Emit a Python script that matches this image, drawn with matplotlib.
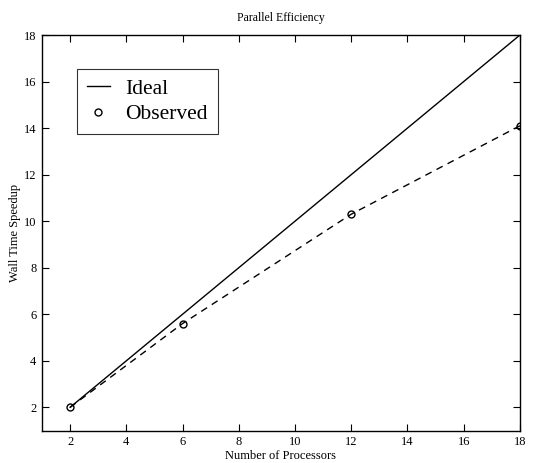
import matplotlib
matplotlib.use("Agg")
import matplotlib.pyplot as plt

plt.rcParams["font.family"] = ["Liberation Serif", "DejaVu Serif"]

# data
processors = [2, 6, 12, 18]
ideal_speedup = [2, 6, 12, 18]
observed_speedup = [2.0, 5.6, 10.3, 14.1]
xticks = [2, 4, 6, 8, 10, 12, 14, 16, 18]
yticks = [2, 4, 6, 8, 10, 12, 14, 16, 18]

fig = plt.figure(figsize=(5.49, 4.63), dpi=100)
ax = fig.add_axes([0.0765, 0.070, 0.8706, 0.8544])

ideal_line, = ax.plot(processors, ideal_speedup, "k-", linewidth=1.0, label="Ideal")
ax.plot(processors, observed_speedup, "k--", linewidth=1.0, dashes=(5, 4))
obs_pts, = ax.plot(processors, observed_speedup, "o", color="k", markerfacecolor="none",
                   markersize=5, markeredgewidth=1.0, linestyle="none", label="Observed")

ax.set_xlim(1, 18)
ax.set_ylim(1, 18)
ax.set_xticks(xticks)
ax.set_yticks(yticks)
ax.tick_params(direction="in", length=5, width=0.8, top=True, right=True,
               labelsize=9, pad=4)
for s in ax.spines.values():
    s.set_linewidth(1.0)

ax.set_title("Parallel Efficiency", fontsize=8.5, pad=10)
ax.set_xlabel("Number of Processors", fontsize=9, labelpad=1)
ax.set_ylabel("Wall Time Speedup", fontsize=9, labelpad=2)

leg = ax.legend(handles=[ideal_line, obs_pts], loc="upper left",
                bbox_to_anchor=(0.073, 0.914), fontsize=15.5, frameon=True,
                fancybox=False, edgecolor="k", handlelength=1.1,
                handletextpad=0.7, borderpad=0.45, labelspacing=0.25,
                borderaxespad=0)
leg.get_frame().set_linewidth(0.8)

fig.savefig("out.png", dpi=100)
